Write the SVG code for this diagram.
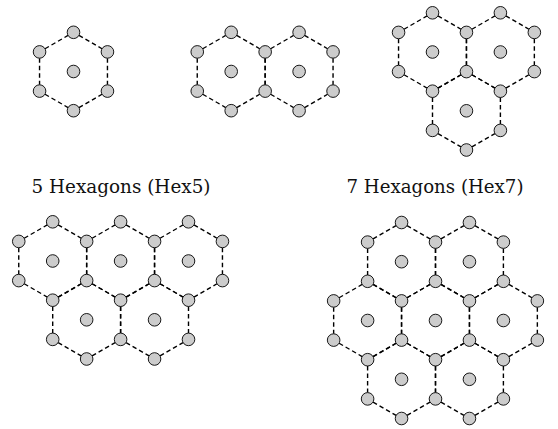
<svg xmlns="http://www.w3.org/2000/svg" xmlns:xlink="http://www.w3.org/1999/xlink" width="558" height="429" viewBox="0 0 558 429">
<style>
.n{fill:#cccccc;stroke:#000;stroke-width:0.9}
.e{fill:none;stroke:#000;stroke-width:1.4;stroke-dasharray:4.5 3}
</style>
<defs>
<path id="hex" d="M-28.49,-22.75 L-5.456,-36.05 M5.456,-36.05 L28.49,-22.75 M33.95,-13.3 L33.95,13.3 M5.456,36.05 L28.49,22.75 M-28.49,22.75 L-5.456,36.05 M-33.95,-13.3 L-33.95,13.3"/>
</defs>
<rect width="558" height="429" fill="#fff"/>
<g id="connectors" class="e">
<use xlink:href="#hex" x="73.5" y="71.5"/>
<use xlink:href="#hex" x="231.2" y="71.5"/>
<use xlink:href="#hex" x="299.1" y="71.5"/>
<use xlink:href="#hex" x="432.5" y="52"/>
<use xlink:href="#hex" x="500.4" y="52"/>
<use xlink:href="#hex" x="466.45" y="110.8"/>
<use xlink:href="#hex" x="52.7" y="261"/>
<use xlink:href="#hex" x="120.6" y="261"/>
<use xlink:href="#hex" x="188.5" y="261"/>
<use xlink:href="#hex" x="86.65" y="319.8"/>
<use xlink:href="#hex" x="154.55" y="319.8"/>
<use xlink:href="#hex" x="401.55" y="261.7"/>
<use xlink:href="#hex" x="469.45" y="261.7"/>
<use xlink:href="#hex" x="367.6" y="320.5"/>
<use xlink:href="#hex" x="435.5" y="320.5"/>
<use xlink:href="#hex" x="503.4" y="320.5"/>
<use xlink:href="#hex" x="401.55" y="379.3"/>
<use xlink:href="#hex" x="469.45" y="379.3"/>
</g>
<g id="labels">
<text x="121" y="193" font-family="DejaVu Serif, serif" font-size="19" fill="#111" text-anchor="middle" textLength="179" lengthAdjust="spacingAndGlyphs">5 Hexagons (Hex5)</text>
<text x="435" y="193" font-family="DejaVu Serif, serif" font-size="19" fill="#111" text-anchor="middle" textLength="177" lengthAdjust="spacingAndGlyphs">7 Hexagons (Hex7)</text>
</g>
<g id="hex1" class="n">
<circle id="h1c" cx="73.5" cy="71.5" r="6.3"/>
<circle id="h1v1" cx="73.5" cy="32.3" r="6.3"/>
<circle id="h1v2" cx="107.45" cy="51.9" r="6.3"/>
<circle id="h1v3" cx="107.45" cy="91.1" r="6.3"/>
<circle id="h1v4" cx="73.5" cy="110.7" r="6.3"/>
<circle id="h1v5" cx="39.55" cy="91.1" r="6.3"/>
<circle id="h1v6" cx="39.55" cy="51.9" r="6.3"/>
</g>
<g id="hex2" class="n">
<circle id="h2c1" cx="231.2" cy="71.5" r="6.3"/>
<circle id="h2c2" cx="299.1" cy="71.5" r="6.3"/>
<circle id="h2v1" cx="231.2" cy="32.3" r="6.3"/>
<circle id="h2v2" cx="299.1" cy="32.3" r="6.3"/>
<circle id="h2v3" cx="197.25" cy="51.9" r="6.3"/>
<circle id="h2v4" cx="265.15" cy="51.9" r="6.3"/>
<circle id="h2v5" cx="333.05" cy="51.9" r="6.3"/>
<circle id="h2v6" cx="197.25" cy="91.1" r="6.3"/>
<circle id="h2v7" cx="265.15" cy="91.1" r="6.3"/>
<circle id="h2v8" cx="333.05" cy="91.1" r="6.3"/>
<circle id="h2v9" cx="231.2" cy="110.7" r="6.3"/>
<circle id="h2v10" cx="299.1" cy="110.7" r="6.3"/>
</g>
<g id="hex3" class="n">
<circle id="h3c1" cx="432.5" cy="52" r="6.3"/>
<circle id="h3c2" cx="500.4" cy="52" r="6.3"/>
<circle id="h3c3" cx="466.45" cy="110.8" r="6.3"/>
<circle id="h3v1" cx="432.5" cy="12.8" r="6.3"/>
<circle id="h3v2" cx="500.4" cy="12.8" r="6.3"/>
<circle id="h3v3" cx="398.55" cy="32.4" r="6.3"/>
<circle id="h3v4" cx="466.45" cy="32.4" r="6.3"/>
<circle id="h3v5" cx="534.35" cy="32.4" r="6.3"/>
<circle id="h3v6" cx="398.55" cy="71.6" r="6.3"/>
<circle id="h3v7" cx="466.45" cy="71.6" r="6.3"/>
<circle id="h3v8" cx="534.35" cy="71.6" r="6.3"/>
<circle id="h3v9" cx="432.5" cy="91.2" r="6.3"/>
<circle id="h3v10" cx="500.4" cy="91.2" r="6.3"/>
<circle id="h3v11" cx="432.5" cy="130.4" r="6.3"/>
<circle id="h3v12" cx="500.4" cy="130.4" r="6.3"/>
<circle id="h3v13" cx="466.45" cy="150" r="6.3"/>
</g>
<g id="hex5" class="n">
<circle id="h5c1" cx="52.7" cy="261" r="6.3"/>
<circle id="h5c2" cx="120.6" cy="261" r="6.3"/>
<circle id="h5c3" cx="188.5" cy="261" r="6.3"/>
<circle id="h5c4" cx="86.65" cy="319.8" r="6.3"/>
<circle id="h5c5" cx="154.55" cy="319.8" r="6.3"/>
<circle id="h5v1" cx="52.7" cy="221.8" r="6.3"/>
<circle id="h5v2" cx="120.6" cy="221.8" r="6.3"/>
<circle id="h5v3" cx="188.5" cy="221.8" r="6.3"/>
<circle id="h5v4" cx="18.75" cy="241.4" r="6.3"/>
<circle id="h5v5" cx="86.65" cy="241.4" r="6.3"/>
<circle id="h5v6" cx="154.55" cy="241.4" r="6.3"/>
<circle id="h5v7" cx="222.45" cy="241.4" r="6.3"/>
<circle id="h5v8" cx="18.75" cy="280.6" r="6.3"/>
<circle id="h5v9" cx="86.65" cy="280.6" r="6.3"/>
<circle id="h5v10" cx="154.55" cy="280.6" r="6.3"/>
<circle id="h5v11" cx="222.45" cy="280.6" r="6.3"/>
<circle id="h5v12" cx="52.7" cy="300.2" r="6.3"/>
<circle id="h5v13" cx="120.6" cy="300.2" r="6.3"/>
<circle id="h5v14" cx="188.5" cy="300.2" r="6.3"/>
<circle id="h5v15" cx="52.7" cy="339.4" r="6.3"/>
<circle id="h5v16" cx="120.6" cy="339.4" r="6.3"/>
<circle id="h5v17" cx="188.5" cy="339.4" r="6.3"/>
<circle id="h5v18" cx="86.65" cy="359" r="6.3"/>
<circle id="h5v19" cx="154.55" cy="359" r="6.3"/>
</g>
<g id="hex7" class="n">
<circle id="h7c1" cx="401.55" cy="261.7" r="6.3"/>
<circle id="h7c2" cx="469.45" cy="261.7" r="6.3"/>
<circle id="h7c3" cx="367.6" cy="320.5" r="6.3"/>
<circle id="h7c4" cx="435.5" cy="320.5" r="6.3"/>
<circle id="h7c5" cx="503.4" cy="320.5" r="6.3"/>
<circle id="h7c6" cx="401.55" cy="379.3" r="6.3"/>
<circle id="h7c7" cx="469.45" cy="379.3" r="6.3"/>
<circle id="h7v1" cx="401.55" cy="222.5" r="6.3"/>
<circle id="h7v2" cx="469.45" cy="222.5" r="6.3"/>
<circle id="h7v3" cx="367.6" cy="242.1" r="6.3"/>
<circle id="h7v4" cx="435.5" cy="242.1" r="6.3"/>
<circle id="h7v5" cx="503.4" cy="242.1" r="6.3"/>
<circle id="h7v6" cx="367.6" cy="281.3" r="6.3"/>
<circle id="h7v7" cx="435.5" cy="281.3" r="6.3"/>
<circle id="h7v8" cx="503.4" cy="281.3" r="6.3"/>
<circle id="h7v9" cx="333.65" cy="300.9" r="6.3"/>
<circle id="h7v10" cx="401.55" cy="300.9" r="6.3"/>
<circle id="h7v11" cx="469.45" cy="300.9" r="6.3"/>
<circle id="h7v12" cx="537.35" cy="300.9" r="6.3"/>
<circle id="h7v13" cx="333.65" cy="340.1" r="6.3"/>
<circle id="h7v14" cx="401.55" cy="340.1" r="6.3"/>
<circle id="h7v15" cx="469.45" cy="340.1" r="6.3"/>
<circle id="h7v16" cx="537.35" cy="340.1" r="6.3"/>
<circle id="h7v17" cx="367.6" cy="359.7" r="6.3"/>
<circle id="h7v18" cx="435.5" cy="359.7" r="6.3"/>
<circle id="h7v19" cx="503.4" cy="359.7" r="6.3"/>
<circle id="h7v20" cx="367.6" cy="398.9" r="6.3"/>
<circle id="h7v21" cx="435.5" cy="398.9" r="6.3"/>
<circle id="h7v22" cx="503.4" cy="398.9" r="6.3"/>
<circle id="h7v23" cx="401.55" cy="418.5" r="6.3"/>
<circle id="h7v24" cx="469.45" cy="418.5" r="6.3"/>
</g>
</svg>
